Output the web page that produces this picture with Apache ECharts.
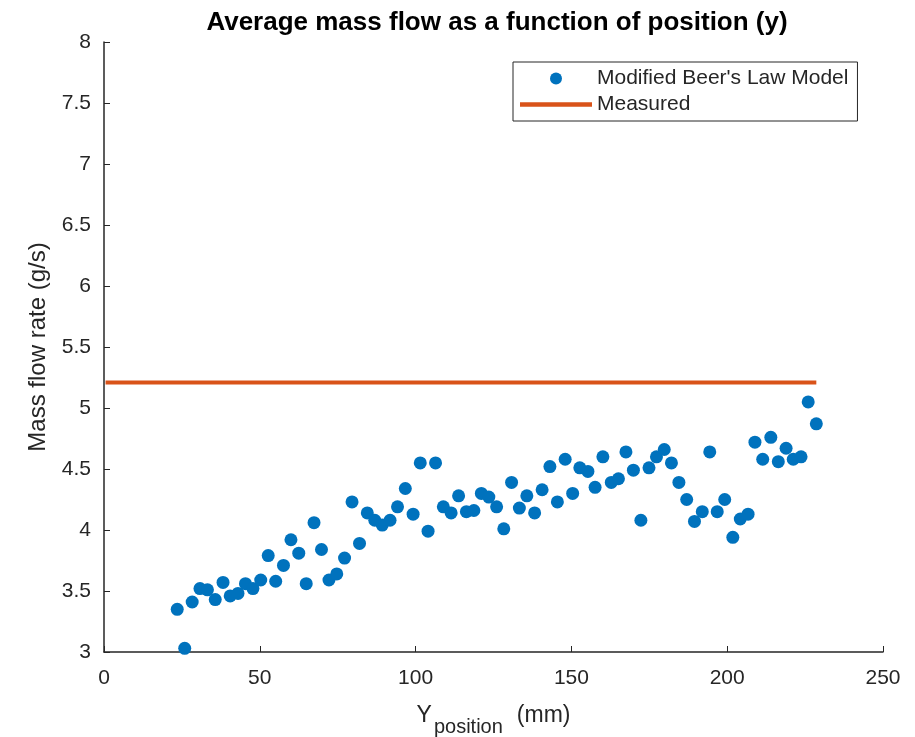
<!DOCTYPE html>
<html>
<head>
<meta charset="utf-8">
<script src="https://cdn.jsdelivr.net/npm/echarts@6/dist/echarts.min.js"></script>
<style>
html,body{margin:0;padding:0;background:#fff;}
#chart{width:915px;height:737px;}
</style>
</head>
<body>
<div id="chart"></div>
<script>
// Modified Beer's Law Model: position (mm) and mass flow rate (g/s)
const positions = [23.5,25.9,28.3,30.8,33.2,35.7,38.2,40.5,43.0,45.4,47.8,50.3,52.7,55.1,57.6,60.0,62.5,64.9,67.4,69.8,72.2,74.7,77.2,79.6,82.0,84.5,86.9,89.3,91.8,94.2,96.7,99.2,101.5,104.0,106.4,108.9,111.4,113.8,116.3,118.7,121.1,123.5,126.0,128.3,130.8,133.3,135.7,138.2,140.6,143.1,145.5,148.0,150.4,152.7,155.3,157.6,160.1,162.8,165.1,167.5,169.9,172.3,174.9,177.3,179.8,182.1,184.5,187.0,189.5,192.0,194.4,196.8,199.2,201.8,204.2,206.7,208.9,211.4,214.0,216.4,218.9,221.2,223.7,226.0,228.6];
const modelFlow = [3.35,3.03,3.41,3.52,3.51,3.43,3.57,3.46,3.48,3.56,3.52,3.59,3.79,3.58,3.71,3.92,3.81,3.56,4.06,3.84,3.59,3.64,3.77,4.23,3.89,4.14,4.08,4.04,4.08,4.19,4.34,4.13,4.55,3.99,4.55,4.19,4.14,4.28,4.15,4.16,4.30,4.27,4.19,4.01,4.39,4.18,4.28,4.14,4.33,4.52,4.23,4.58,4.30,4.51,4.48,4.35,4.60,4.39,4.42,4.64,4.49,4.08,4.51,4.60,4.66,4.55,4.39,4.25,4.07,4.15,4.64,4.15,4.25,3.94,4.09,4.13,4.72,4.58,4.76,4.56,4.67,4.58,4.60,5.05,4.87];
// Measured mass flow (constant line)
const measuredX = [0.5, 228.6];
const measuredFlow = [5.21, 5.21];
const xTicks = [0, 50, 100, 150, 200, 250];
const yTicks = [3, 3.5, 4, 4.5, 5, 5.5, 6, 6.5, 7, 7.5, 8];

const FONT = '"Liberation Sans", Arial, Helvetica, sans-serif';
const INK = '#262626';

const chart = echarts.init(document.getElementById('chart'), null, {renderer: 'canvas'});
chart.setOption({
  animation: false,
  backgroundColor: '#ffffff',
  title: {
    text: 'Average mass flow as a function of position (y)',
    left: 492, top: 5, textAlign: 'center',
    textStyle: {fontFamily: FONT, fontSize: 26, fontWeight: 'bold', color: '#000'}
  },
  legend: {
    orient: 'vertical',
    left: 513, top: 62,
    padding: [6, 9, 6, 7],
    itemGap: 5,
    itemWidth: 72, itemHeight: 12,
    borderColor: INK, borderWidth: 1,
    selectedMode: false,
    textStyle: {fontFamily: FONT, fontSize: 21, color: INK},
    data: [
      {name: "Modified Beer's Law Model", icon: 'circle'},
      {name: 'Measured', icon: 'path://M0,0 L72,0 L72,4.5 L0,4.5 Z', itemStyle: {color: '#D95319'}}
    ]
  },
  grid: {left: 104, right: 32, top: 42, bottom: 85, containLabel: false, outerBoundsMode: 'none'},
  xAxis: {
    type: 'value', min: xTicks[0], max: xTicks[xTicks.length - 1], interval: 50,
    name: '{y|Y}{s|position}{g| }{y|(mm)}',
    nameLocation: 'middle', nameGap: 52,
    nameTextStyle: {
      fontFamily: FONT, color: INK,
      rich: {
        y: {fontFamily: FONT, fontSize: 23, color: INK, verticalAlign: 'top', lineHeight: 30},
        g: {fontFamily: FONT, fontSize: 23, color: INK, width: 14, lineHeight: 30},
        s: {fontFamily: FONT, fontSize: 20, color: INK, verticalAlign: 'bottom', lineHeight: 30, padding: [0, 0, -3, 2]}
      }
    },
    axisLine: {show: true, lineStyle: {color: INK, width: 1.5}},
    axisTick: {show: true, inside: true, length: 6, lineStyle: {color: INK}},
    axisLabel: {fontFamily: FONT, fontSize: 21, color: INK, margin: 16},
    splitLine: {show: false}
  },
  yAxis: {
    type: 'value', min: yTicks[0], max: yTicks[yTicks.length - 1], interval: 0.5,
    name: 'Mass flow rate (g/s)',
    nameLocation: 'middle', nameGap: 54,
    nameTextStyle: {fontFamily: FONT, fontSize: 24, color: INK},
    axisLine: {show: true, lineStyle: {color: INK, width: 1.5}},
    axisTick: {show: true, inside: true, length: 6, lineStyle: {color: INK}},
    axisLabel: {fontFamily: FONT, fontSize: 21, color: INK, margin: 13},
    splitLine: {show: false}
  },
  series: [
    {
      name: "Modified Beer's Law Model",
      type: 'scatter',
      symbol: 'circle', symbolSize: 13,
      itemStyle: {color: '#0072BD', opacity: 1},
      data: positions.map((x, i) => [x, modelFlow[i]]),
      z: 3
    },
    {
      name: 'Measured',
      type: 'line',
      symbol: 'none', showSymbol: false,
      lineStyle: {color: '#D95319', width: 4},
      itemStyle: {color: '#D95319'},
      data: measuredX.map((x, i) => [x, measuredFlow[i]]),
      z: 2
    }
  ]
});
</script>
</body>
</html>
